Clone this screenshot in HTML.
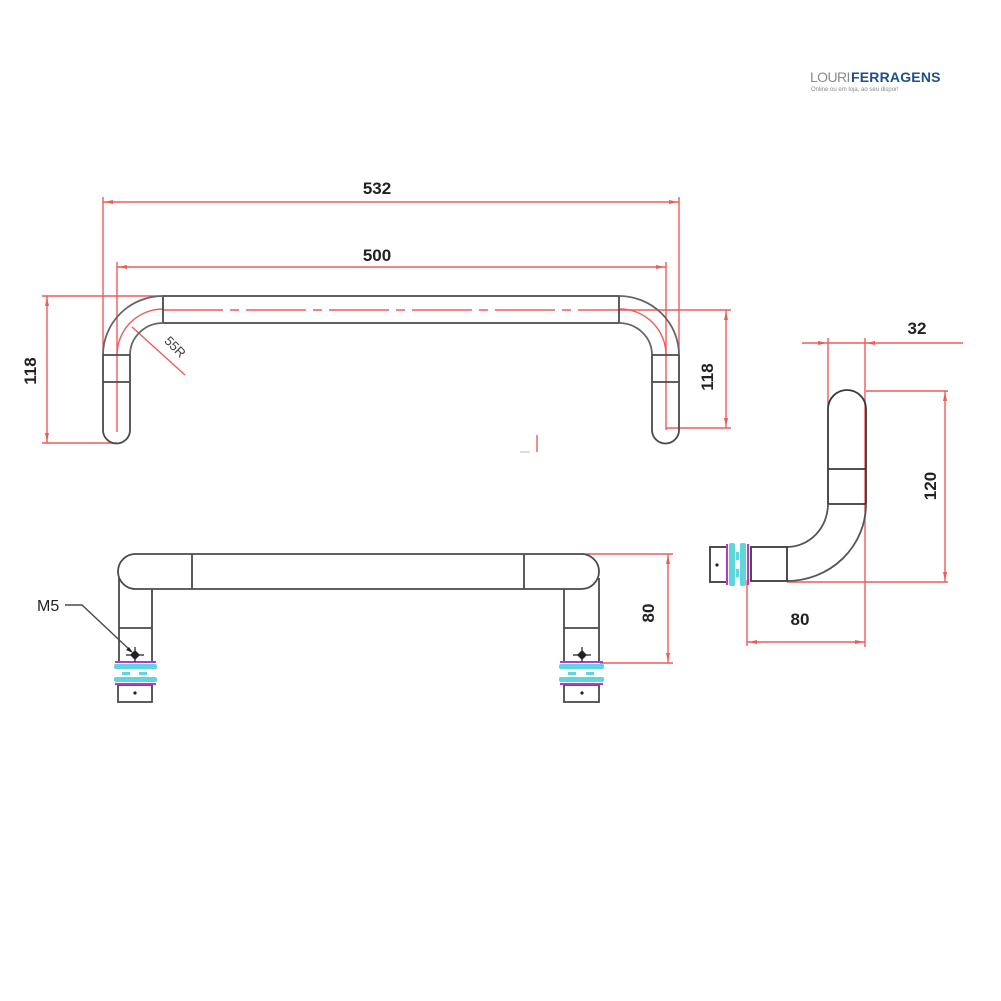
<!DOCTYPE html>
<html>
<head>
<meta charset="utf-8">
<style>
html,body{margin:0;padding:0;background:#fff;}
svg{display:block;}
.dim{font-family:"Liberation Sans",sans-serif;font-weight:bold;font-size:17px;fill:#222;}
</style>
</head>
<body>
<svg width="1001" height="1001" viewBox="0 0 1001 1001" xmlns="http://www.w3.org/2000/svg">
<rect width="1001" height="1001" fill="#fff"/>

<!-- Logo -->
<text x="810" y="82" font-family="Liberation Sans, sans-serif" font-size="14" fill="#8a8a8a" letter-spacing="-0.6">LOURI</text>
<text x="851" y="82" font-family="Liberation Sans, sans-serif" font-size="14" font-weight="bold" fill="#1d4f8c" letter-spacing="0.2">FERRAGENS</text>
<text x="811" y="91" font-family="Liberation Sans, sans-serif" font-size="6" fill="#888">Online ou em loja, ao seu dispor!</text>

<g fill="none" stroke-linecap="butt">
<!-- ===== TOP VIEW ===== -->
<g stroke="#ef5b5b" stroke-width="1.4">
  <!-- 532 -->
  <line x1="103" y1="202" x2="679" y2="202"/>
  <line x1="103" y1="197" x2="103" y2="355"/>
  <line x1="679" y1="197" x2="679" y2="355"/>
  <!-- 500 -->
  <line x1="117" y1="267" x2="666" y2="267"/>
  <line x1="117" y1="262" x2="117" y2="432"/>
  <line x1="666" y1="262" x2="666" y2="430"/>
  <!-- centre line -->
  <line x1="163" y1="310" x2="619" y2="310" stroke-dasharray="60 7 9 7"/>
  <path d="M117,355 A46,46 0 0 1 163,309"/>
  <path d="M666,355 A46,46 0 0 0 620,309"/>
  <!-- 118 left -->
  <line x1="42" y1="296" x2="163" y2="296"/>
  <line x1="42" y1="443" x2="117" y2="443"/>
  <line x1="47" y1="296" x2="47" y2="443"/>
  <!-- 118 right -->
  <line x1="619" y1="310" x2="731" y2="310"/>
  <line x1="666" y1="428" x2="731" y2="428"/>
  <line x1="726" y1="310" x2="726" y2="428"/>
  <!-- 55R leader -->
  <line x1="132" y1="327" x2="185" y2="375"/>
  <!-- small mark -->
  <line x1="537" y1="435" x2="537" y2="452"/>
</g>
<line x1="520" y1="452" x2="530" y2="452" stroke="#bbb" stroke-width="1"/>
<!-- arrowheads top view -->
<g fill="#ef5b5b" stroke="none">
  <path d="M104,202 l9,-2 l0,4z"/><path d="M678,202 l-9,-2 l0,4z"/>
  <path d="M118,267 l9,-2 l0,4z"/><path d="M665,267 l-9,-2 l0,4z"/>
  <path d="M47,297 l-2,9 l4,0z"/><path d="M47,442 l-2,-9 l4,0z"/>
  <path d="M726,311 l-2,9 l4,0z"/><path d="M726,427 l-2,-9 l4,0z"/>
</g>

<g stroke="#4a4a4a" stroke-width="1.8">
  <line x1="163" y1="296" x2="619" y2="296"/>
  <line x1="163" y1="323" x2="619" y2="323"/>
  <line x1="163" y1="296" x2="163" y2="323"/>
  <line x1="619" y1="296" x2="619" y2="323"/>
  <!-- left bend -->
  <path d="M103,355 A60,59 0 0 1 163,296" stroke="#666"/>
  <path d="M130,355 A33,32 0 0 1 163,323" stroke="#666"/>
  <!-- left leg -->
  <path d="M103,355 L103,430 A13.5,13.5 0 0 0 130,430 L130,355"/>
  <line x1="103" y1="355" x2="130" y2="355"/>
  <line x1="103" y1="382" x2="130" y2="382"/>
  <!-- right bend -->
  <path d="M679,355 A60,59 0 0 0 619,296" stroke="#666"/>
  <path d="M652,355 A33,32 0 0 0 619,323" stroke="#666"/>
  <!-- right leg -->
  <path d="M652,355 L652,430 A13.5,13.5 0 0 0 679,430 L679,355"/>
  <line x1="652" y1="355" x2="679" y2="355"/>
  <line x1="652" y1="382" x2="679" y2="382"/>
</g>

<!-- ===== FRONT VIEW ===== -->
<g stroke="#ef5b5b" stroke-width="1.4">
  <line x1="582" y1="554" x2="673" y2="554"/>
  <line x1="600" y1="663" x2="673" y2="663"/>
  <line x1="668" y1="554" x2="668" y2="663"/>
</g>
<g fill="#ef5b5b" stroke="none">
  <path d="M668,555 l-2,9 l4,0z"/><path d="M668,662 l-2,-9 l4,0z"/>
</g>
<g stroke="#4a4a4a" stroke-width="1.8">
  <rect x="118" y="554" width="481" height="35" rx="17.5" ry="17.5"/>
  <line x1="192" y1="554" x2="192" y2="589"/>
  <line x1="524" y1="554" x2="524" y2="589"/>
  <!-- left leg -->
  <line x1="119" y1="578" x2="119" y2="662"/>
  <line x1="152" y1="589" x2="152" y2="662"/>
  <line x1="119" y1="628" x2="152" y2="628"/>
  <!-- right leg -->
  <line x1="564" y1="589" x2="564" y2="662"/>
  <line x1="599" y1="578" x2="599" y2="662"/>
  <line x1="564" y1="628" x2="599" y2="628"/>
  <!-- bottom boxes -->
  <rect x="118" y="685" width="34" height="17"/>
  <rect x="564" y="685" width="35" height="17"/>
  <!-- M5 leader -->
  <polyline points="65,605 82,605 131,651" stroke-width="1.4"/>
</g>
<!-- connectors front -->
<g>
  <g stroke="#b03cc8" stroke-width="2">
    <line x1="115" y1="662" x2="156" y2="662"/>
    <line x1="115" y1="684" x2="156" y2="684"/>
    <line x1="560" y1="662" x2="603" y2="662"/>
    <line x1="560" y1="684" x2="603" y2="684"/>
  </g>
  <g fill="#5fd6dd" stroke="none">
    <rect x="114" y="664" width="43" height="5" rx="2"/>
    <rect x="114" y="677" width="43" height="5" rx="2"/>
    <rect x="559" y="664" width="45" height="5" rx="2"/>
    <rect x="559" y="677" width="45" height="5" rx="2"/>
    <rect x="122" y="672" width="8" height="3"/><rect x="139" y="672" width="8" height="3"/>
    <rect x="568" y="672" width="8" height="3"/><rect x="586" y="672" width="8" height="3"/>
  </g>
  <g fill="#222" stroke="none">
    <circle cx="135" cy="693" r="1.6"/>
    <circle cx="582" cy="693" r="1.6"/>
    <path d="M135,650 l5,5 l-5,5 l-5,-5z"/>
    <path d="M582,650 l5,5 l-5,5 l-5,-5z"/>
    <path d="M133,653 l-7,-3 l3,-3z"/>
  </g>
  <g stroke="#222" stroke-width="1.2">
    <line x1="126" y1="655" x2="144" y2="655"/>
    <line x1="135" y1="647" x2="135" y2="662"/>
    <line x1="573" y1="655" x2="591" y2="655"/>
    <line x1="582" y1="647" x2="582" y2="662"/>
  </g>
</g>

<!-- ===== SIDE VIEW ===== -->
<g stroke="#ef5b5b" stroke-width="1.4">
  <!-- 32 -->
  <line x1="802" y1="343" x2="963" y2="343"/>
  <line x1="828" y1="338" x2="828" y2="408"/>
  <line x1="865" y1="338" x2="865" y2="647"/>
  <!-- 120 -->
  <line x1="866" y1="391" x2="948" y2="391"/>
  <line x1="787" y1="582" x2="948" y2="582"/>
  <line x1="945" y1="391" x2="945" y2="582"/>
  <!-- 80 -->
  <line x1="747" y1="642" x2="865" y2="642"/>
  <line x1="747" y1="580" x2="747" y2="646"/>
</g>
<g fill="#ef5b5b" stroke="none">
  <path d="M827,343 l-9,-2 l0,4z"/><path d="M866,343 l9,-2 l0,4z"/>
  <path d="M945,392 l-2,9 l4,0z"/><path d="M945,581 l-2,-9 l4,0z"/>
  <path d="M748,642 l9,-2 l0,4z"/><path d="M864,642 l-9,-2 l0,4z"/>
</g>
<g stroke="#3a3a3a" stroke-width="1.8">
  <path d="M828,504 L828,409 A19,19 0 0 1 866,409 L866,504"/>
  <line x1="828" y1="469" x2="866" y2="469"/>
  <line x1="828" y1="504" x2="866" y2="504"/>
  <path d="M866,504 A79,77 0 0 1 787,581" stroke="#555"/>
  <path d="M828,504 A41,43 0 0 1 787,547" stroke="#555"/>
  <rect x="751" y="547" width="36" height="34"/>
  <rect x="710" y="547" width="17" height="35"/>
</g>
<g>
  <g stroke="#b03cc8" stroke-width="2">
    <line x1="727" y1="544" x2="727" y2="585"/>
    <line x1="748" y1="544" x2="748" y2="585"/>
  </g>
  <g fill="#5fd6dd" stroke="none">
    <rect x="729" y="543" width="6" height="43" rx="2"/>
    <rect x="740" y="543" width="6" height="43" rx="2"/>
    <rect x="736" y="552" width="3" height="8"/>
    <rect x="736" y="569" width="3" height="8"/>
  </g>
  <circle cx="717" cy="565" r="1.6" fill="#222"/>
</g>
</g>

<!-- Dimension texts -->
<text class="dim" x="377" y="194" text-anchor="middle">532</text>
<text class="dim" x="377" y="261" text-anchor="middle">500</text>
<text class="dim" transform="translate(36,371) rotate(-90)" text-anchor="middle">118</text>
<text class="dim" transform="translate(713,377) rotate(-90)" text-anchor="middle">118</text>
<text font-family="Liberation Sans, sans-serif" font-size="13" fill="#444" transform="translate(172,350) rotate(45)" text-anchor="middle">55R</text>
<text x="37" y="611" font-family="Liberation Sans, sans-serif" font-size="16" fill="#222">M5</text>
<text class="dim" transform="translate(654,613) rotate(-90)" text-anchor="middle">80</text>
<text class="dim" x="917" y="334" text-anchor="middle">32</text>
<text class="dim" transform="translate(936,486) rotate(-90)" text-anchor="middle">120</text>
<text class="dim" x="800" y="625" text-anchor="middle">80</text>
</svg>
</body>
</html>
